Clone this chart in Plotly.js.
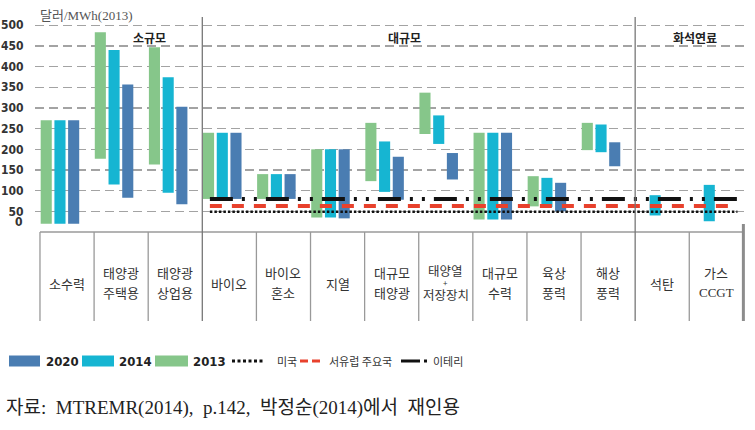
<!DOCTYPE html>
<html><head><meta charset="utf-8">
<script src="https://cdn.plot.ly/plotly-3.0.1.min.js"></script>
<style>html,body{margin:0;padding:0;background:#fff}</style>
</head><body><div id="chart" style="width:755px;height:430px"></div>
<script>
// ---------------- data ----------------
const categories = ['소수력','태양광 주택용','태양광 상업용','바이오','바이오 혼소','지열','대규모 태양광','태양열+저장장치','대규모 수력','육상 풍력','해상 풍력','석탄','가스 CCGT'];
const categoryLines = [['소수력'],['태양광','주택용'],['태양광','상업용'],['바이오'],['바이오','혼소'],['지열'],['대규모','태양광'],['태양열','저장장치'],['대규모','수력'],['육상','풍력'],['해상','풍력'],['석탄'],['가스','CCGT']];
const groupNames = ['소규모','대규모','화석연료'];
const groupStarts = [0, 3, 11];

const low2013  = [20, 177, 163, 80, 80, 35, 123, 237, 30, 62, 198, null, null];
const high2013 = [270, 483, 447, 240, 140, 200, 264, 337, 240, 135, 264, null, null];
const low2014  = [20, 115, 95, 80, 80, 35, 97, 213, 30, 60, 193, 40, 26];
const high2014 = [270, 440, 374, 240, 140, 200, 219, 282, 240, 131, 260, 89, 114];
const low2020  = [20, 83, 67, 80, 80, 33, 78, 127, 30, 50, 159, null, null];
const high2020 = [270, 357, 303, 240, 140, 200, 182, 191, 240, 119, 217, null, null];

const refNames  = ['미국', '서유럽 주요국', '이테리'];
const refValues = [49, 63, 80];

const yTicks = [50, 100, 150, 200, 250, 300, 350, 400, 450, 500];

// ---------------- geometry / style ----------------
const W = 755, H = 430, L = 35, R = 10, T = 17, B = 198;
const plotW = W - L - R, plotH = H - T - B;
const px2x = px => (px - L) / plotW;
const py2y = py => (H - B - py) / plotH;
const xRange = [-0.592, 12.53];
const yRange = [0, 520];
const n = categories.length;

const C2013 = '#86c68a', C2014 = '#16b5d2', C2020 = '#4a7db2';
const KR = '"Noto Sans CJK KR", sans-serif';
const NARROW = '"Liberation Sans Narrow", "DejaVu Sans Condensed", sans-serif';
const SERIF = '"Liberation Serif", "Noto Sans CJK KR", serif';

function barTrace(name, low, high, color, offset) {
  return {
    type: 'bar', name: name, x: categories, base: low,
    y: high.map((h, i) => (h == null || low[i] == null) ? null : h - low[i]),
    marker: {color: color, line: {width: 0}},
    width: 0.205, offset: offset, hoverinfo: 'skip', showlegend: false
  };
}

const traces = [
  barTrace('2013', low2013, high2013, C2013, -0.487),
  barTrace('2014', low2014, high2014, C2014, -0.233),
  barTrace('2020', low2020, high2020, C2020, 0.02)
];

const refStyles = [
  {color: '#111', width: 2.5, dash: '2.5px,2px'},
  {color: '#e8412c', width: 4, dash: '12px,10px'},
  {color: '#111', width: 4, dash: '23px,9px,3px,9px,3px,9px'}
];
const lineStart = 2.64, lineEnd = 12.39;
refValues.forEach((v, k) => {
  traces.push({
    type: 'scatter', mode: 'lines', name: refNames[k], xaxis: 'x2', yaxis: 'y',
    x: [lineStart, lineEnd], y: [v, v], line: refStyles[k], hoverinfo: 'skip', showlegend: false
  });
});

// ---------------- shapes (table, separators, legend) ----------------
const shapes = [];
shapes.push({type: 'line', xref: 'x', yref: 'paper', x0: -0.5, x1: n - 0.5, y0: 0, y1: 0, line: {color: '#9a9a9a', width: 1.5}});
for (let i = 0; i <= n; i++) {
  const isGroup = groupStarts.includes(i) && i > 0;
  if (i === n) {
    shapes.push({type: 'line', xref: 'x', yref: 'paper', x0: i - 0.5, x1: i - 0.5, y0: py2y(224), y1: py2y(321), line: {color: '#8c8c8c', width: 3}});
  } else {
    shapes.push({type: 'line', xref: 'x', yref: 'paper', x0: i - 0.5, x1: i - 0.5, y0: isGroup ? 1 : 0, y1: py2y(321), line: {color: isGroup ? '#777' : '#999', width: 1.3}});
  }
}

const annotations = [];
// y unit title
annotations.push({xref: 'paper', yref: 'paper', x: px2x(38), y: py2y(15), xanchor: 'left', yanchor: 'middle', showarrow: false,
  text: '달러/MWh(2013)', font: {family: SERIF, size: 13, color: '#555'}});
// zero label
annotations.push({xref: 'paper', yref: 'y', x: 0, y: 0, xshift: -10, yshift: 10, xanchor: 'right', yanchor: 'middle', showarrow: false,
  text: '0', font: {family: NARROW, size: 12, weight: 'bold', color: '#333'}});
// group labels
const groupCenters = [1.53, 6.23, 11.61];
groupNames.forEach((g, k) => {
  annotations.push({xref: 'x2', yref: 'paper', x: groupCenters[k], y: py2y(37), xanchor: 'center', yanchor: 'middle', showarrow: false,
    text: '<b>' + g + '</b>', font: {family: KR, size: 12, color: '#222'}});
});
// category labels in table
categoryLines.forEach((lines, i) => {
  const ys = lines.length === 1 ? [283] : (i === 7 ? [270, 294] : [272, 292]);
  lines.forEach((t, j) => {
    const isLatin = /^[A-Z]+$/.test(t);
    annotations.push({xref: 'x2', yref: 'paper', x: i, y: py2y(ys[j]), xanchor: 'center', yanchor: 'middle', showarrow: false,
      text: t, font: {family: isLatin ? SERIF : KR, size: i === 7 ? 12.5 : 13, color: '#333'}});
  });
});
annotations.push({xref: 'x2', yref: 'paper', x: 7, y: py2y(282), xanchor: 'center', yanchor: 'middle', showarrow: false,
  text: '+', font: {family: KR, size: 8, color: '#333'}});

// custom legend
const legY = 361;
const legBars = [['2020', C2020, 9, 40, 44], ['2014', C2014, 82, 114, 117], ['2013', C2013, 155, 188, 191]];
legBars.forEach(([lab, col, x0, x1, tx]) => {
  shapes.push({type: 'rect', xref: 'paper', yref: 'paper', x0: px2x(x0), x1: px2x(x1), y0: py2y(legY - 5.5), y1: py2y(legY + 5.5),
    fillcolor: col, line: {width: 0}});
  annotations.push({xref: 'paper', yref: 'paper', x: px2x(tx), y: py2y(legY), xanchor: 'left', yanchor: 'middle', showarrow: false,
    text: lab, font: {family: NARROW, size: 13, weight: 'bold', color: '#222'}});
});
const legLines = [
  [refNames[0], {color: '#111', width: 3, dash: '3px,2.5px'}, 232, 265, 275],
  [refNames[1], {color: '#e8412c', width: 3, dash: '8px,4px'}, 300, 320, 327],
  [refNames[2], {color: '#111', width: 3, dash: '19px,4px,3px,20px'}, 401, 427, 431]
];
legLines.forEach(([lab, ln, x0, x1, tx]) => {
  shapes.push({type: 'line', xref: 'paper', yref: 'paper', x0: px2x(x0), x1: px2x(x1), y0: py2y(legY), y1: py2y(legY), line: ln});
  annotations.push({xref: 'paper', yref: 'paper', x: px2x(tx), y: py2y(legY), xanchor: 'left', yanchor: 'middle', showarrow: false,
    text: lab, font: {family: KR, size: 11, color: '#333'}});
});

// source note
const sp = '\u00a0\u00a0';
annotations.push({xref: 'paper', yref: 'paper', x: px2x(4), y: py2y(408), xanchor: 'left', yanchor: 'middle', showarrow: false,
  text: '자료:' + sp + 'MTREMR(2014),' + sp + 'p.142,' + sp + '박정순(2014)에서' + sp + '재인용', font: {family: SERIF, size: 19, color: '#222'}});

const layout = {
  width: W, height: H,
  margin: {l: L, r: R, t: T, b: B, pad: 0},
  paper_bgcolor: '#fff', plot_bgcolor: '#fff',
  font: {family: KR, color: '#333'},
  barmode: 'overlay',
  showlegend: false,
  xaxis: {type: 'category', categoryorder: 'array', categoryarray: categories, range: xRange,
    showticklabels: false, showgrid: false, zeroline: false, showline: false, ticks: '', fixedrange: true},
  xaxis2: {overlaying: 'x', range: xRange, visible: false, fixedrange: true},
  yaxis: {range: yRange, tickvals: yTicks, ticktext: yTicks.map(String), showgrid: true,
    gridcolor: '#a3a3a3', gridwidth: 1.5, griddash: '9px,5px', zeroline: false, showline: false,
    ticks: 'outside', ticklen: 8, tickcolor: 'rgba(0,0,0,0)',
    tickfont: {family: NARROW, size: 12, weight: 'bold', color: '#333'}, fixedrange: true},
  shapes: shapes,
  annotations: annotations
};

Plotly.newPlot('chart', traces, layout, {displayModeBar: false, staticPlot: true});
</script>
</body></html>
